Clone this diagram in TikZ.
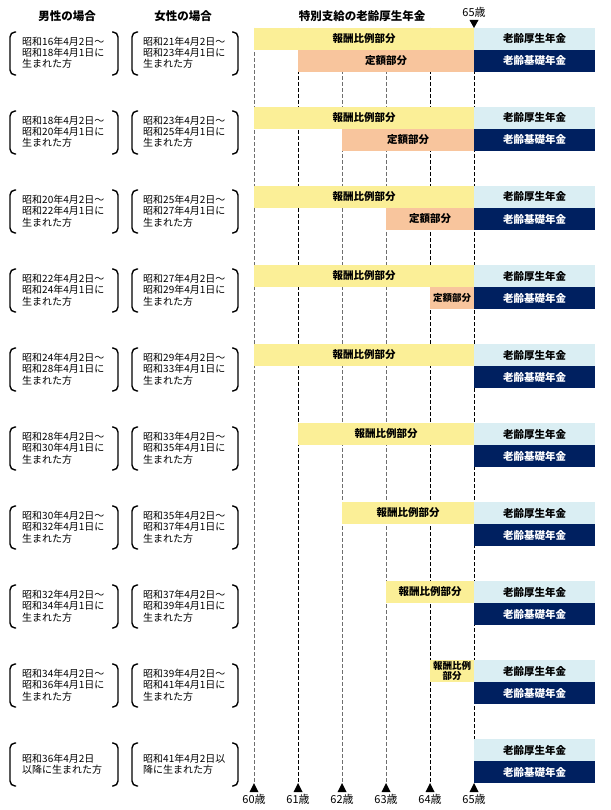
\documentclass[tikz,border=0pt]{standalone}
\usepackage{fontspec}
\setmainfont{Noto Sans CJK JP}
\usetikzlibrary{positioning}

\definecolor{hoyel}{HTML}{FBEF97}
\definecolor{teior}{HTML}{F8C59D}
\definecolor{kouao}{HTML}{DAEEF3}
\definecolor{kikon}{HTML}{002060}
\definecolor{guidegray}{HTML}{6E6E6E}

\tikzset{
  hdr/.style={font=\bfseries\fontsize{11.5}{13}\selectfont},
  agelbl/.style={font=\fontsize{11}{12}\selectfont, inner sep=0pt},
  lbl/.style={font=\fontsize{10}{11.2}\selectfont, align=left, inner sep=0pt, anchor=west},
  brkt/.style={line width=1.4pt, rounded corners=5pt},
  guide/.style={dash pattern=on 4pt off 2pt, line width=1pt},
  bar/.style={anchor=north west, minimum height=22pt, inner sep=0pt, outer sep=0pt,
    font=\bfseries\fontsize{10.5}{11}\selectfont},
  hobar/.style={bar, fill=hoyel},
  teibar/.style={bar, fill=teior},
  kousei/.style={bar, fill=kouao, minimum width=121pt},
  kiso/.style={bar, fill=kikon, text=white, minimum width=121pt},
}

\begin{document}
\begin{tikzpicture}[x=1pt,y=-1pt]
\useasboundingbox (0,0) rectangle (610,810);

%見出し
\node[hdr] (hm) at (67,16) {男性の場合};
\node[hdr] (hf) at (183,16) {女性の場合};
\node[hdr] (ht) at (362,16) {特別支給の老齢厚生年金};
\node[agelbl] (top65) at (474,12) {65歳};
\fill (469.5,20) -- (478.5,20) -- (474,28) -- cycle;

% 年齢の目盛り
\foreach \a/\c in {60/guidegray,61/black,62/guidegray,63/guidegray,64/black,65/black} {
\coordinate (g\a) at ({254+(\a-60)*44},28);
\coordinate (b\a) at ({254+(\a-60)*44},783);
\draw[guide,\c] (g\a) -- (b\a);
\fill (b\a) -- ++(-4.5,9) -- ++(9,0) -- cycle;
\node[agelbl] (age\a) at ({254+(\a-60)*44},799) {{\a}歳};
}

% 生年月日と老齢厚生年金・老齢基礎年金
\foreach \r/\mt/\ft in {
1/{昭和16年4月2日～\\昭和18年4月1日に\\生まれた方}/{昭和21年4月2日～\\昭和23年4月1日に\\生まれた方},
2/{昭和18年4月2日～\\昭和20年4月1日に\\生まれた方}/{昭和23年4月2日～\\昭和25年4月1日に\\生まれた方},
3/{昭和20年4月2日～\\昭和22年4月1日に\\生まれた方}/{昭和25年4月2日～\\昭和27年4月1日に\\生まれた方},
4/{昭和22年4月2日～\\昭和24年4月1日に\\生まれた方}/{昭和27年4月2日～\\昭和29年4月1日に\\生まれた方},
5/{昭和24年4月2日～\\昭和28年4月1日に\\生まれた方}/{昭和29年4月2日～\\昭和33年4月1日に\\生まれた方},
6/{昭和28年4月2日～\\昭和30年4月1日に\\生まれた方}/{昭和33年4月2日～\\昭和35年4月1日に\\生まれた方},
7/{昭和30年4月2日～\\昭和32年4月1日に\\生まれた方}/{昭和35年4月2日～\\昭和37年4月1日に\\生まれた方},
8/{昭和32年4月2日～\\昭和34年4月1日に\\生まれた方}/{昭和37年4月2日～\\昭和39年4月1日に\\生まれた方},
9/{昭和34年4月2日～\\昭和36年4月1日に\\生まれた方}/{昭和39年4月2日～\\昭和41年4月1日に\\生まれた方},
10/{昭和36年4月2日\\以降に生まれた方}/{昭和41年4月2日以\\降に生まれた方}} {
\pgfmathsetmacro\t{28+(\r-1)*79}
\draw[brkt] (16,\t+4) -- (10,\t+4) -- (10,\t+47) -- (16,\t+47);
\draw[brkt] (112,\t+4) -- (118,\t+4) -- (118,\t+47) -- (112,\t+47);
\draw[brkt] (138,\t+4) -- (132,\t+4) -- (132,\t+47) -- (138,\t+47);
\draw[brkt] (232,\t+4) -- (238,\t+4) -- (238,\t+47) -- (232,\t+47);
\node[lbl] (m\r) at (22,\t+25) {\mt};
\node[lbl] (f\r) at (143,\t+25) {\ft};
\node[kousei] (kn\r) at (474,\t) {老齢厚生年金};
\node[kiso] (kk\r) at (474,\t+22) {老齢基礎年金};
}

% 報酬比例部分
\node[hobar, minimum width=220pt] (hp1) at (254,28) {報酬比例部分};
\node[hobar, minimum width=220pt] (hp2) at (254,107) {報酬比例部分};
\node[hobar, minimum width=220pt] (hp3) at (254,186) {報酬比例部分};
\node[hobar, minimum width=220pt] (hp4) at (254,265) {報酬比例部分};
\node[hobar, minimum width=220pt] (hp5) at (254,344) {報酬比例部分};
\node[hobar, minimum width=176pt] (hp6) at (298,423) {報酬比例部分};
\node[hobar, minimum width=132pt] (hp7) at (342,502) {報酬比例部分};
\node[hobar, minimum width=88pt] (hp8) at (386,581) {報酬比例部分};
\node[hobar, minimum width=44pt, align=center,
  font=\bfseries\fontsize{9.5}{10.5}\selectfont] (hp9) at (430,660) {報酬比例\\部分};

% 定額部分
\node[teibar, minimum width=176pt] (tg1) at (298,50) {定額部分};
\node[teibar, minimum width=132pt] (tg2) at (342,129) {定額部分};
\node[teibar, minimum width=88pt] (tg3) at (386,208) {定額部分};
\node[teibar, minimum width=44pt,
  font=\bfseries\fontsize{9.5}{10.5}\selectfont] (tg4) at (430,287) {定額部分};

\end{tikzpicture}
\end{document}
